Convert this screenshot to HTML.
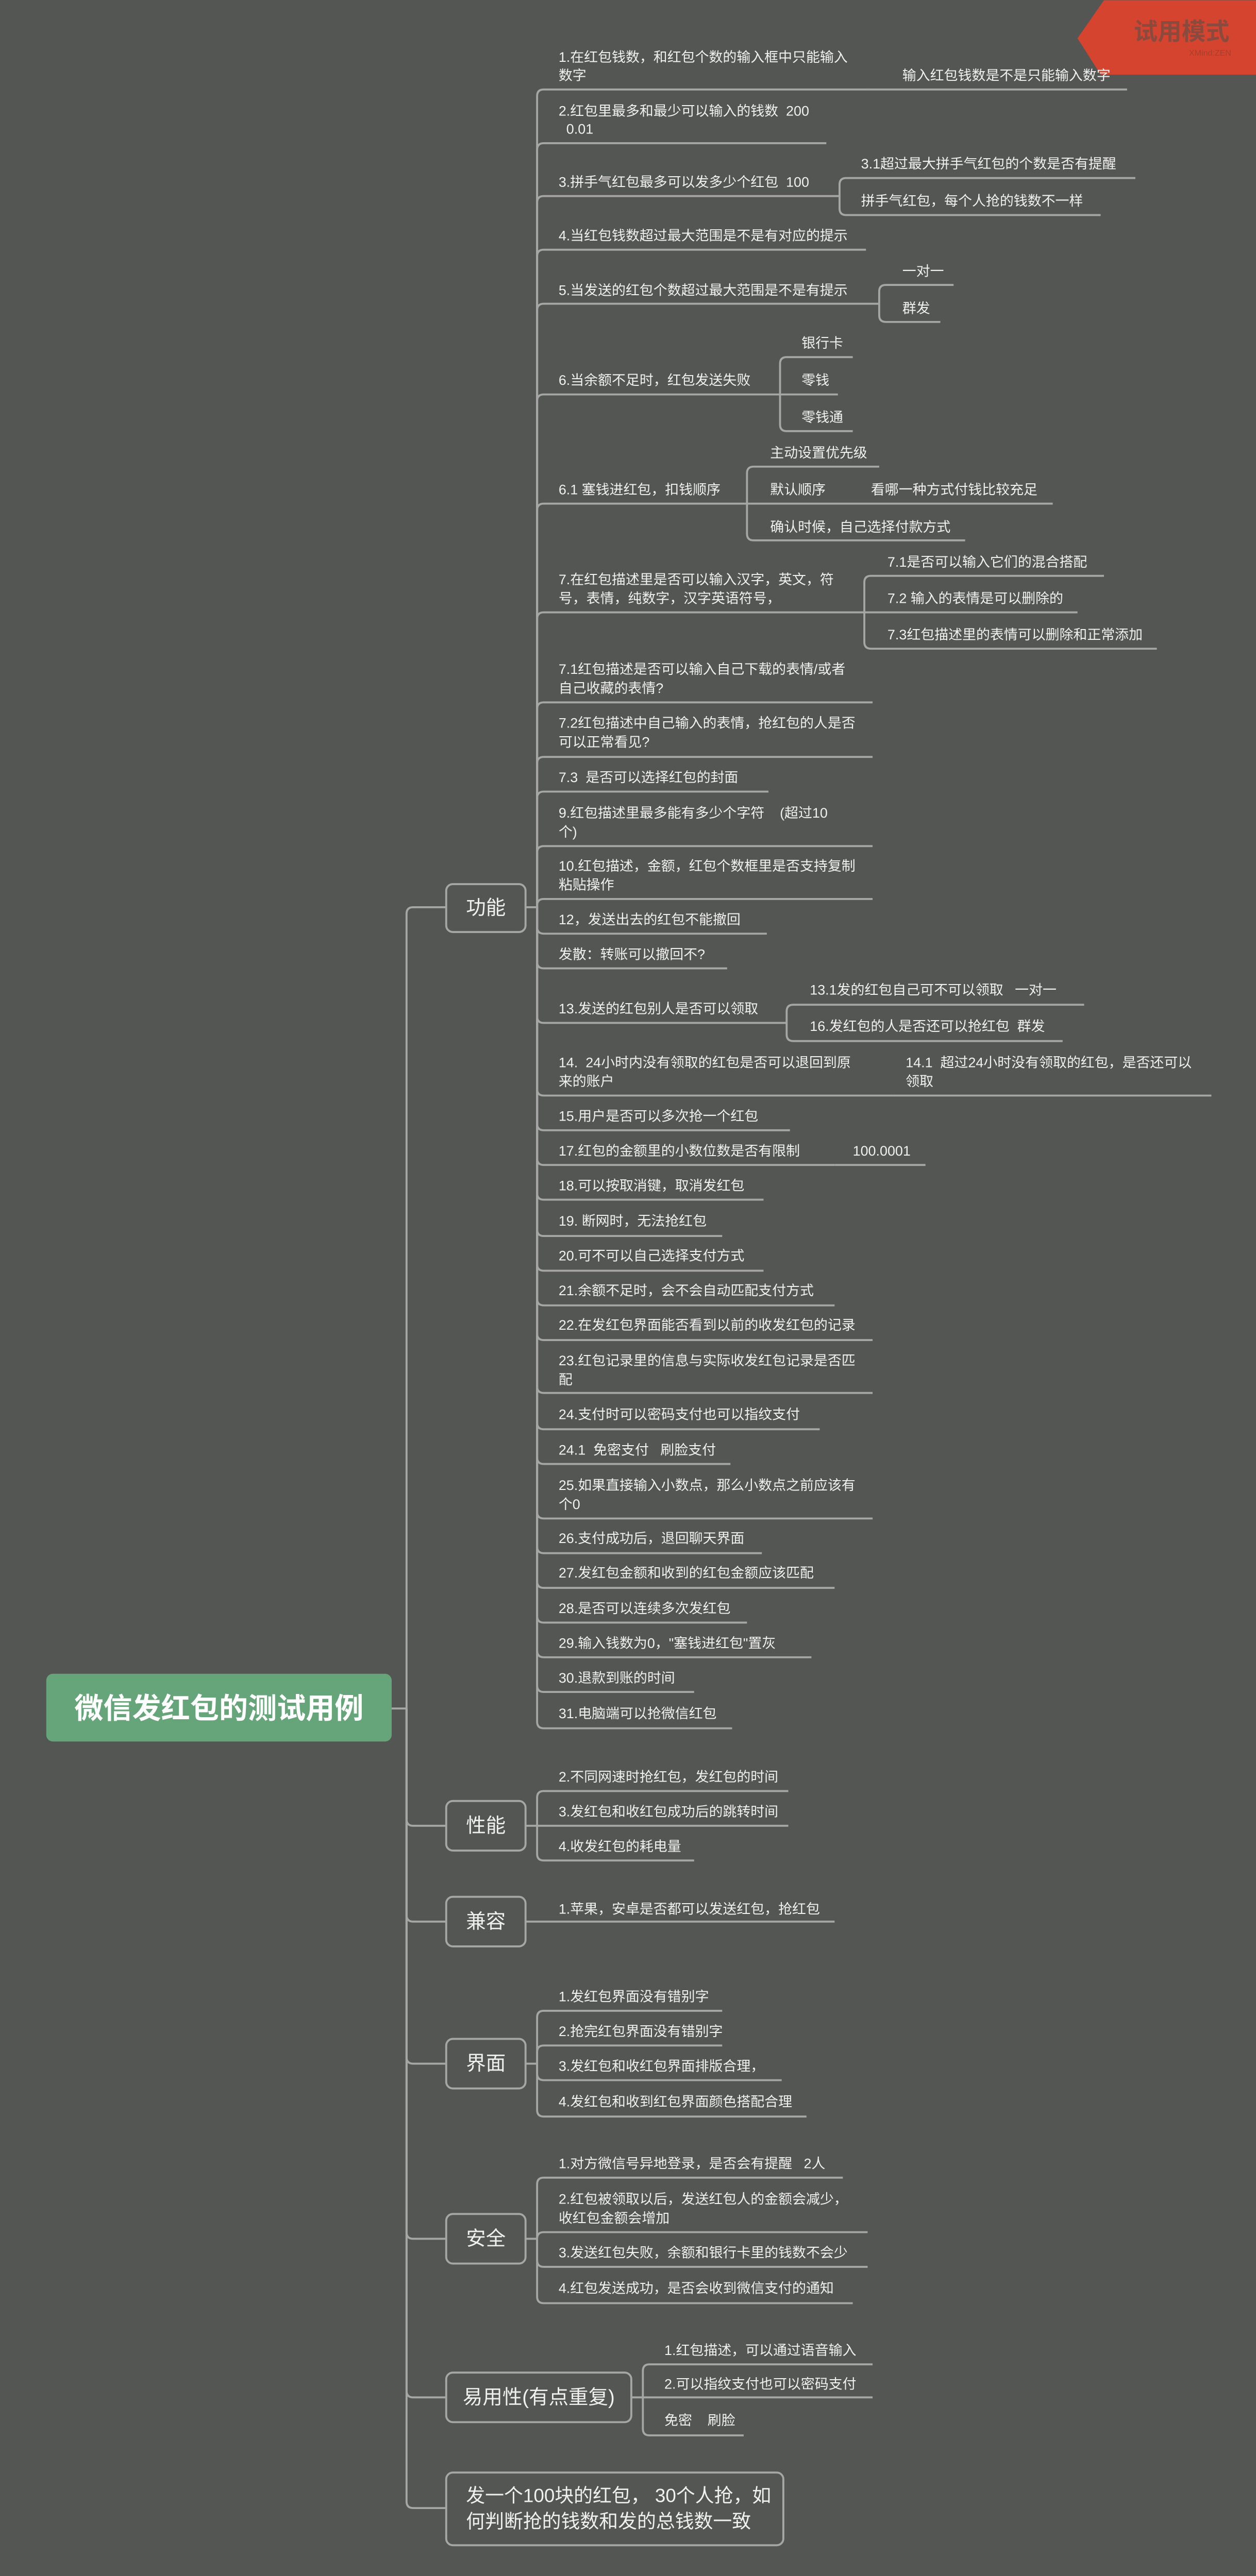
<!DOCTYPE html>
<html><head><meta charset="utf-8">
<style>
html,body{margin:0;padding:0;background:#545653;width:2437px;height:5029px;overflow:hidden;}
svg{display:block;position:absolute;left:0;top:0;}
text{font-family:"Liberation Sans","Noto Sans CJK SC",sans-serif;fill:#f0f0f0;dominant-baseline:central;white-space:pre;}
.t{font-size:8.4px;}
.c{font-size:12px;text-anchor:middle;}
path{fill:none;stroke:#a6a6a6;stroke-width:1.2;}
rect.box{fill:#545653;stroke:#a6a6a6;stroke-width:1.2;}
</style></head>
<body>
<svg width="2437" height="5029" viewBox="0 0 760 1568" xmlns="http://www.w3.org/2000/svg">
<rect x="0" y="0" width="760" height="1568" fill="#545653"/>

<path d="M668 0 H760 V45 H666 L652 23 Z" style="fill:#d5442e;stroke:none"/>
<text x="715" y="19" style="font-size:14.5px;fill:#8b4a3e;text-anchor:middle;font-weight:bold">试用模式</text>
<text x="745" y="32" style="font-size:5px;fill:#a83e2c;text-anchor:end">XMind:ZEN</text>

<rect x="28" y="1013" width="209" height="41" rx="4" fill="#66a57a"/>
<text x="132.5" y="1034" style="font-size:17.5px;font-weight:bold;fill:#ffffff;text-anchor:middle">微信发红包的测试用例</text>

<path d="M237 1034 H246"/>
<path d="M246 1034 V553 Q246 549 250 549 H270"/>
<path d="M246 1034 V1101 Q246 1105 250 1105 H270"/>
<path d="M246 1034 V1159 Q246 1163 250 1163 H270"/>
<path d="M246 1034 V1245 Q246 1249 250 1249 H270"/>
<path d="M246 1034 V1351 Q246 1355 250 1355 H270"/>
<path d="M246 1034 V1447 Q246 1451 250 1451 H270"/>
<path d="M246 1034 V1514 Q246 1518 250 1518 H270"/>

<rect class="box" x="270" y="535" width="48" height="29" rx="4"/><text class="c" x="294" y="549.5">功能</text>
<rect class="box" x="270" y="1090" width="48" height="30" rx="4"/><text class="c" x="294" y="1105">性能</text>
<rect class="box" x="270" y="1148" width="48" height="30" rx="4"/><text class="c" x="294" y="1163">兼容</text>
<rect class="box" x="270" y="1234" width="48" height="30" rx="4"/><text class="c" x="294" y="1249">界面</text>
<rect class="box" x="270" y="1340" width="48" height="30" rx="4"/><text class="c" x="294" y="1355">安全</text>
<rect class="box" x="270" y="1436" width="112" height="30" rx="4"/><text class="c" x="326" y="1451">易用性(有点重复)</text>
<rect class="box" x="270" y="1496.5" width="204" height="44" rx="4"/>
<text x="282" y="1510.5" style="font-size:11.5px">发一个100块的红包， 30个人抢，如</text>
<text x="282" y="1526" style="font-size:11.5px">何判断抢的钱数和发的总钱数一致</text>

<path d="M318 549 H325"/>
<path d="M325 549 V58 Q325 54 329 54 H525"/>
<path d="M325 549 V90.5 Q325 86.5 329 86.5 H500"/>
<path d="M325 549 V122.5 Q325 118.5 329 118.5 H508"/>
<path d="M325 549 V155 Q325 151 329 151 H524"/>
<path d="M325 549 V187.7 Q325 183.7 329 183.7 H532"/>
<path d="M325 549 V242.6 Q325 238.6 329 238.6 H472"/>
<path d="M325 549 V308.7 Q325 304.7 329 304.7 H452"/>
<path d="M325 549 V374.5 Q325 370.5 329 370.5 H523"/>
<path d="M325 549 V429 Q325 425 329 425 H528"/>
<path d="M325 549 V462 Q325 458 329 458 H528"/>
<path d="M325 549 V483 Q325 479 329 479 H465"/>
<path d="M325 549 V516 Q325 512 329 512 H528"/>
<path d="M325 549 V548 Q325 544 329 544 H528"/>
<path d="M325 549 V561 Q325 565 329 565 H464"/>
<path d="M325 549 V582 Q325 586 329 586 H440"/>
<path d="M325 549 V615 Q325 619 329 619 H476"/>
<path d="M325 549 V659 Q325 663 329 663 H540"/>
<path d="M325 549 V680 Q325 684 329 684 H478"/>
<path d="M325 549 V701 Q325 705 329 705 H505"/>
<path d="M325 549 V722 Q325 726 329 726 H462"/>
<path d="M325 549 V744 Q325 748 329 748 H437"/>
<path d="M325 549 V765 Q325 769 329 769 H462"/>
<path d="M325 549 V786 Q325 790 329 790 H505"/>
<path d="M325 549 V807 Q325 811 329 811 H528"/>
<path d="M325 549 V839 Q325 843 329 843 H528"/>
<path d="M325 549 V861 Q325 865 329 865 H496"/>
<path d="M325 549 V882 Q325 886 329 886 H442"/>
<path d="M325 549 V915 Q325 919 329 919 H528"/>
<path d="M325 549 V936 Q325 940 329 940 H461"/>
<path d="M325 549 V957 Q325 961 329 961 H505"/>
<path d="M325 549 V978 Q325 982 329 982 H452"/>
<path d="M325 549 V999 Q325 1003 329 1003 H491"/>
<path d="M325 549 V1020 Q325 1024 329 1024 H420"/>
<path d="M325 549 V1042 Q325 1046 329 1046 H443"/>

<path d="M525 54 H682"/>
<path d="M508 118.5 V111.6 Q508 107.6 512 107.6 H687"/>
<path d="M508 118.5 V126 Q508 130 512 130 H666"/>
<path d="M532 183.7 V176.3 Q532 172.3 536 172.3 H577"/>
<path d="M532 183.7 V190.7 Q532 194.7 536 194.7 H569"/>
<path d="M472 238.6 V220 Q472 216 476 216 H516"/>
<path d="M472 238.6 H507"/>
<path d="M472 238.6 V256.8 Q472 260.8 476 260.8 H516"/>
<path d="M452 304.7 V286.3 Q452 282.3 456 282.3 H532"/>
<path d="M452 304.7 H637"/>
<path d="M452 304.7 V322.9 Q452 326.9 456 326.9 H584"/>
<path d="M523 370.5 V352.4 Q523 348.4 527 348.4 H668"/>
<path d="M523 370.5 H652"/>
<path d="M523 370.5 V388.5 Q523 392.5 527 392.5 H700"/>
<path d="M476 619 V612 Q476 608 480 608 H656"/>
<path d="M476 619 V626 Q476 630 480 630 H643"/>
<path d="M540 663 H733"/>
<path d="M505 705 H560"/>

<text class="t" x="338" y="34.5">1.在红包钱数，和红包个数的输入框中只能输入</text>
<text class="t" x="338" y="45.5">数字</text>
<text class="t" x="546" y="45.5">输入红包钱数是不是只能输入数字</text>
<text class="t" x="338" y="67">2.红包里最多和最少可以输入的钱数  200</text>
<text class="t" x="338" y="78">  0.01</text>
<text class="t" x="338" y="110">3.拼手气红包最多可以发多少个红包  100</text>
<text class="t" x="521" y="99">3.1超过最大拼手气红包的个数是否有提醒</text>
<text class="t" x="521" y="121.5">拼手气红包，每个人抢的钱数不一样</text>
<text class="t" x="338" y="142.5">4.当红包钱数超过最大范围是不是有对应的提示</text>
<text class="t" x="338" y="175.5">5.当发送的红包个数超过最大范围是不是有提示</text>
<text class="t" x="546" y="164">一对一</text>
<text class="t" x="546" y="186.5">群发</text>
<text class="t" x="338" y="230">6.当余额不足时，红包发送失败</text>
<text class="t" x="485" y="207.5">银行卡</text>
<text class="t" x="485" y="230">零钱</text>
<text class="t" x="485" y="252.5">零钱通</text>
<text class="t" x="338" y="296.3">6.1 塞钱进红包，扣钱顺序</text>
<text class="t" x="466" y="274">主动设置优先级</text>
<text class="t" x="466" y="296.3">默认顺序</text>
<text class="t" x="527" y="296.3">看哪一种方式付钱比较充足</text>
<text class="t" x="466" y="318.8">确认时候，自己选择付款方式</text>
<text class="t" x="338" y="350.7">7.在红包描述里是否可以输入汉字，英文，符</text>
<text class="t" x="338" y="362">号，表情，纯数字，汉字英语符号，</text>
<text class="t" x="537" y="340">7.1是否可以输入它们的混合搭配</text>
<text class="t" x="537" y="362">7.2 输入的表情是可以删除的</text>
<text class="t" x="537" y="384">7.3红包描述里的表情可以删除和正常添加</text>
<text class="t" x="338" y="405">7.1红包描述是否可以输入自己下载的表情/或者</text>
<text class="t" x="338" y="416.5">自己收藏的表情?</text>
<text class="t" x="338" y="437.5">7.2红包描述中自己输入的表情，抢红包的人是否</text>
<text class="t" x="338" y="449">可以正常看见?</text>
<text class="t" x="338" y="470.5">7.3  是否可以选择红包的封面</text>
<text class="t" x="338" y="492">9.红包描述里最多能有多少个字符    (超过10</text>
<text class="t" x="338" y="503.5">个)</text>
<text class="t" x="338" y="524">10.红包描述，金额，红包个数框里是否支持复制</text>
<text class="t" x="338" y="535.5">粘贴操作</text>
<text class="t" x="338" y="556.5">12，发送出去的红包不能撤回</text>
<text class="t" x="338" y="577.5">发散：转账可以撤回不?</text>
<text class="t" x="338" y="610.5">13.发送的红包别人是否可以领取</text>
<text class="t" x="490" y="599">13.1发的红包自己可不可以领取   一对一</text>
<text class="t" x="490" y="621">16.发红包的人是否还可以抢红包  群发</text>
<text class="t" x="338" y="643">14.  24小时内没有领取的红包是否可以退回到原</text>
<text class="t" x="338" y="654.5">来的账户</text>
<text class="t" x="548" y="643">14.1  超过24小时没有领取的红包，是否还可以</text>
<text class="t" x="548" y="654.5">领取</text>
<text class="t" x="338" y="675.5">15.用户是否可以多次抢一个红包</text>
<text class="t" x="338" y="696.5">17.红包的金额里的小数位数是否有限制</text>
<text class="t" x="516" y="696.5">100.0001</text>
<text class="t" x="338" y="717.5">18.可以按取消键，取消发红包</text>
<text class="t" x="338" y="739">19. 断网时，无法抢红包</text>
<text class="t" x="338" y="760">20.可不可以自己选择支付方式</text>
<text class="t" x="338" y="781">21.余额不足时，会不会自动匹配支付方式</text>
<text class="t" x="338" y="802">22.在发红包界面能否看到以前的收发红包的记录</text>
<text class="t" x="338" y="823.5">23.红包记录里的信息与实际收发红包记录是否匹</text>
<text class="t" x="338" y="835">配</text>
<text class="t" x="338" y="856">24.支付时可以密码支付也可以指纹支付</text>
<text class="t" x="338" y="877.5">24.1  免密支付   刷脸支付</text>
<text class="t" x="338" y="899">25.如果直接输入小数点，那么小数点之前应该有</text>
<text class="t" x="338" y="910.5">个0</text>
<text class="t" x="338" y="931">26.支付成功后，退回聊天界面</text>
<text class="t" x="338" y="952">27.发红包金额和收到的红包金额应该匹配</text>
<text class="t" x="338" y="973.5">28.是否可以连续多次发红包</text>
<text class="t" x="338" y="994.5">29.输入钱数为0，"塞钱进红包"置灰</text>
<text class="t" x="338" y="1015.5">30.退款到账的时间</text>
<text class="t" x="338" y="1037">31.电脑端可以抢微信红包</text>

<path d="M318 1105 H325"/>
<path d="M325 1105 V1088 Q325 1084 329 1084 H477"/>
<path d="M325 1105 H477"/>
<path d="M325 1105 V1122 Q325 1126 329 1126 H420"/>
<text class="t" x="338" y="1075.5">2.不同网速时抢红包，发红包的时间</text>
<text class="t" x="338" y="1096.5">3.发红包和收红包成功后的跳转时间</text>
<text class="t" x="338" y="1117.5">4.收发红包的耗电量</text>

<path d="M318 1163 H505"/>
<text class="t" x="338" y="1155.5">1.苹果，安卓是否都可以发送红包，抢红包</text>

<path d="M318 1249 H325"/>
<path d="M325 1249 V1221 Q325 1217 329 1217 H437"/>
<path d="M325 1249 V1242 Q325 1238 329 1238 H437"/>
<path d="M325 1249 V1255 Q325 1259 329 1259 H473"/>
<path d="M325 1249 V1277 Q325 1281 329 1281 H488"/>
<text class="t" x="338" y="1208.5">1.发红包界面没有错别字</text>
<text class="t" x="338" y="1229.5">2.抢完红包界面没有错别字</text>
<text class="t" x="338" y="1250.5">3.发红包和收红包界面排版合理，</text>
<text class="t" x="338" y="1272">4.发红包和收到红包界面颜色搭配合理</text>

<path d="M318 1355 H325"/>
<path d="M325 1355 V1322 Q325 1318 329 1318 H510"/>
<path d="M325 1355 Q325 1351 329 1351 H525"/>
<path d="M325 1355 V1368 Q325 1372 329 1372 H525"/>
<path d="M325 1355 V1390 Q325 1394 329 1394 H516"/>
<text class="t" x="338" y="1309.5">1.对方微信号异地登录，是否会有提醒   2人</text>
<text class="t" x="338" y="1331">2.红包被领取以后，发送红包人的金额会减少，</text>
<text class="t" x="338" y="1342.5">收红包金额会增加</text>
<text class="t" x="338" y="1363.5">3.发送红包失败，余额和银行卡里的钱数不会少</text>
<text class="t" x="338" y="1385">4.红包发送成功，是否会收到微信支付的通知</text>

<path d="M382 1451 H389"/>
<path d="M389 1451 V1435 Q389 1431 393 1431 H528"/>
<path d="M389 1451 H528"/>
<path d="M389 1451 V1470 Q389 1474 393 1474 H450"/>
<text class="t" x="402" y="1422.5">1.红包描述，可以通过语音输入</text>
<text class="t" x="402" y="1443">2.可以指纹支付也可以密码支付</text>
<text class="t" x="402" y="1465">免密    刷脸</text>
</svg>
</body></html>
